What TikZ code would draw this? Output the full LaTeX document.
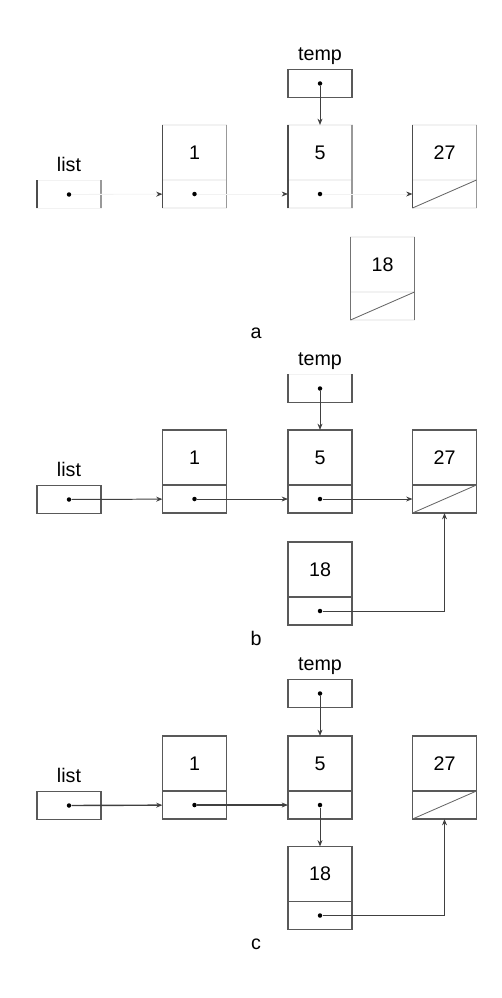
\documentclass[tikz,border=0pt]{standalone}
\usepackage{fontspec}
\setmainfont{Liberation Sans}
\usetikzlibrary{positioning, arrows.meta}
\newcommand{\cellfont}{\fontsize{14}{16}\selectfont}

\begin{document}
\begin{tikzpicture}[
			x=0.025cm, y=-0.025cm,
			data/.style={
				draw=black!65,
				line width=0.9pt,
				minimum width=1.6cm,
				minimum height=1.375cm,
				inner sep=0pt,
				outer sep=0pt,
				font=\cellfont
			},
			ptr/.style={
				draw=black!65,
				line width=0.9pt,
				minimum width=1.6cm,
				minimum height=0.7cm,
				inner sep=0pt,
				outer sep=0pt
			},
			ghost/.style={draw=black!5},
			lbl/.style={font=\cellfont, inner sep=0pt, text depth=0pt},
			dot/.style={circle, fill=black, inner sep=0pt, minimum size=3.2pt},
			link/.style={
				-{Stealth[length=4.5pt,width=3.5pt]},
				line width=0.7pt,
				draw=black!75
			},
			ghostlink/.style={
				-{Stealth[length=4.5pt,width=3.5pt,color=black!75]},
				line width=0.6pt,
				draw=black!5
			},
			nil/.style={line width=0.6pt, draw=black!60}
			]
			\useasboundingbox (0,0) rectangle (501,998);
			
			% a: temp points at 5, new node 18 not yet linked
			\node (alist) [ptr, ghost] at (69,194.5) {};
			\node [lbl, above=6pt of alist] {list};
			\foreach \n/\x in {1/194.5, 5/320, 27/444.5} {
				\node (a\n) [data, ghost] at (\x,152.5) {\n};
				\node (a\n-p) [ptr, ghost, below=0pt of a\n] {};
			}
			\node (a18) [data, ghost] at (382.5,264.5) {18};
			\node (a18-p) [ptr, ghost, below=0pt of a18] {};
			\foreach \n in {alist, a1, a5, a27} {
				\draw [black!70, line width=0.9pt] (\n.north west) -- (\n.north west |- a1-p.south);
				\draw [black!40, line width=0.9pt] (\n.north east) -- (\n.north east |- a1-p.south);
			}
			\draw [black!55, line width=0.9pt] (a18.north west) -- (a18-p.south west);
			\draw [black!55, line width=0.9pt] (a18.north east) -- (a18-p.south east);
			\node (atemp) [ptr] at (320,83.5) {};
			\node [lbl, above=6pt of atemp] {temp};
			\node (alist-d) [dot] at (alist) {};
			\node (a1-d) [dot] at (a1-p) {};
			\node (a5-d) [dot] at (a5-p) {};
			\node (atemp-d) [dot] at (atemp) {};
			\draw [nil] (a27-p.south west) -- (a27-p.north east);
			\draw [nil] (a18-p.south west) -- (a18-p.north east);
			\draw [ghostlink] (alist-d) -- (a1-p);
			\draw [ghostlink] (a1-d) -- (a5-p);
			\draw [ghostlink] (a5-d) -- (a27-p);
			\draw [link] (atemp-d) -- (a5);
			\node [lbl] at (256,333) {a};
			
			% b: 18 points at 27
			\begin{scope}[shift={(0,305)}]
				\node (blist) [ptr] at (69,194.5) {};
				\node [lbl, above=6pt of blist] {list};
				\foreach \n/\x in {1/194.5, 5/320, 27/444.5} {
					\node (b\n) [data] at (\x,152.5) {\n};
					\node (b\n-p) [ptr, below=0pt of b\n] {};
				}
				\node (b18) [data] at (320,264.5) {18};
				\node (b18-p) [ptr, below=0pt of b18] {};
				\node (btemp) [ptr, ghost] at (320,83.5) {};
				\draw [black!65, line width=0.9pt] (btemp.north west) |- (btemp.south east) -- (btemp.north east);
				\node [lbl, above=6pt of btemp] {temp};
				\node (blist-d) [dot] at (blist) {};
				\node (b1-d) [dot] at (b1-p) {};
				\node (b5-d) [dot] at (b5-p) {};
				\node (b18-d) [dot] at (b18-p) {};
				\node (btemp-d) [dot] at (btemp) {};
				\draw [nil] (b27-p.south west) -- (b27-p.north east);
				\draw [link] (blist-d) -- (b1-p);
				\draw [link] (b1-d) -- (b5-p);
				\draw [link] (b5-d) -- (b27-p);
				\draw [link] (btemp-d) -- (b5);
				\draw [link] (b18-d) -| (b27-p.south);
				\node [lbl] at (256,333) {b};
			\end{scope}
			
			% c: 5 points at 18
			\begin{scope}[shift={(0,611)}]
				\node (clist) [ptr] at (69,194.5) {};
				\node [lbl, above=6pt of clist] {list};
				\foreach \n/\x in {1/194.5, 5/320, 27/444.5} {
					\node (c\n) [data] at (\x,152.5) {\n};
					\node (c\n-p) [ptr, below=0pt of c\n] {};
				}
				\node (c18) [data] at (320,263) {18};
				\node (c18-p) [ptr, below=0pt of c18] {};
				\node (ctemp) [ptr] at (320,82.5) {};
				\node [lbl, above=6pt of ctemp] {temp};
				\node (clist-d) [dot] at (clist) {};
				\node (c1-d) [dot] at (c1-p) {};
				\node (c5-d) [dot] at (c5-p) {};
				\node (c18-d) [dot] at (c18-p) {};
				\node (ctemp-d) [dot] at (ctemp) {};
				\draw [nil] (c27-p.south west) -- (c27-p.north east);
				\draw [link, line width=1pt] (clist-d) -- (c1-p);
				\draw [link, line width=1pt] (c1-d) -- (c5-p);
				\draw [link] (c5-d) -- (c18);
				\draw [link] (ctemp-d) -- (c5);
				\draw [link] (c18-d) -| (c27-p.south);
				\node [lbl] at (256,333) {c};
			\end{scope}
			
		\end{tikzpicture}
\end{document}
